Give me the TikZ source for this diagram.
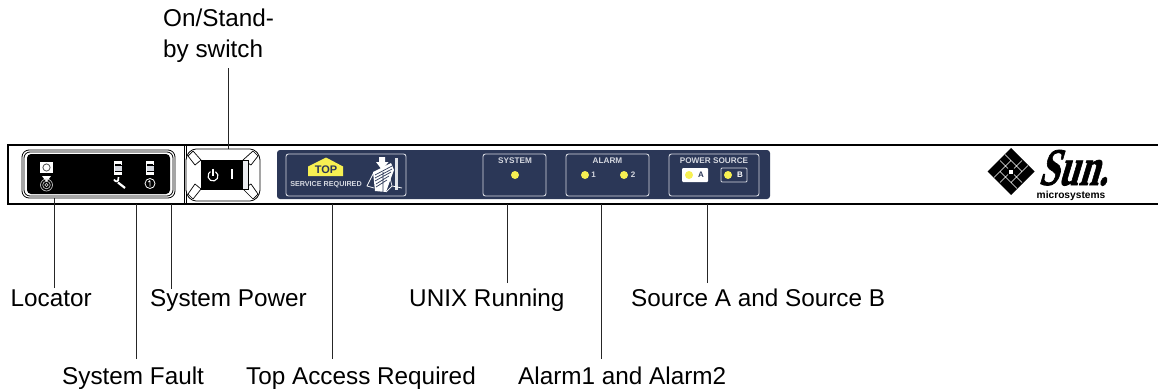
\documentclass[tikz,border=0pt]{standalone}
\usepackage{fontspec}
\setmainfont{Liberation Sans}
\newfontfamily\logofont[BoldFeatures={FakeBold=1.5}]{Liberation Serif}
\definecolor{navy}{HTML}{2B3757}
\definecolor{led}{HTML}{F7F052}
\definecolor{edge}{HTML}{D5D8E0}
\tikzset{
  x=1pt,y=-1pt,
  callout/.style={font=\fontsize{24.3}{31}\selectfont,inner sep=0pt,anchor=base west,text=black},
  leader/.style={draw=black!85,line width=0.8pt},
  panelhead/.style={font=\fontsize{8.2}{10}\bfseries\selectfont,text=edge,inner sep=0pt},
  ledlabel/.style={font=\fontsize{8}{10}\bfseries\selectfont,inner sep=0pt},
  groupbox/.style={draw=edge,line width=0.9pt,rounded corners=2.5pt},
  ledspot/.style={fill=led,draw=none},
  bezel/.style={draw=black,fill=white,line width=0.8pt},
  facet/.style={draw=black,fill=white,line width=0.7pt,line join=round},
  icon/.style={draw=white,line width=0.8pt}
}
\begin{document}
\begin{tikzpicture}
\useasboundingbox (0,0) rectangle (1158,388);
% chassis
\draw[line width=2.2pt] (1158,144.8) -- (8,144.8) -- (8,204.3) -- (1158,204.3);
\draw[line width=0.6pt] (184,145) -- (184,204) (186,145) -- (186,204);
% left bezel
\draw[bezel,rounded corners=7pt] (22,150) rectangle (175,198);
\draw[bezel,rounded corners=6pt] (24,152) rectangle (173,196);
\node[fill=black,rounded corners=4pt,minimum width=143,minimum height=40,inner sep=0pt] (ledpanel) at (98.5,174) {};
\node[fill=white,minimum width=13,minimum height=11,inner sep=0pt] (locbox) at (46.5,167.5) {};
\draw[black!70,line width=0.8pt] (locbox) circle (3.6);
\fill[white] (42,176) -- (51,176) -- (46.5,182) -- cycle;
\draw[white!75!black,line width=0.7pt] (46.5,185) circle (6) (46.5,185) circle (3.8) (46.5,185) circle (1.6);
\foreach \lx in {118,150}{
  \fill[white] (\lx-4,161) rectangle (\lx+4,175);
  \fill[black] (\lx-3,164) rectangle (\lx+3,172);
  \fill[edge] (\lx-3.5,165) rectangle (\lx+3.5,171);
  \draw[black,line width=0.6pt] (\lx-3.5,165) -- (\lx+3.5,165) (\lx-3.5,171) -- (\lx+3.5,171);
}
\draw[white,line width=2.2pt] (118,182.5) -- (125,188);
\draw[white,line width=1.7pt] (114,179.5) .. controls (115.5,182.5) and (119,182.5) .. (118.5,177);
\draw[icon] (150,183.5) circle (5);
\draw[icon] (150,180.5) -- (150,186.5) (148.5,182) -- (150,180.5);
% switch
\draw[bezel,rounded corners=4pt] (192,149) -- (254,149) -- (260,156) -- (260,194) -- (254,201) -- (192,201) -- (186,194) -- (186,156) -- cycle;
\draw[facet] (188,156) -- (193,151) -- (201,160) -- (195,165) -- cycle;
\draw[facet] (258,156) -- (253,151) -- (243,160) -- (251,165) -- cycle;
\draw[facet] (188,194) -- (193,199) -- (201,189) -- (195,184) -- cycle;
\draw[facet] (258,194) -- (253,199) -- (243,189) -- (251,184) -- cycle;
\draw[line width=0.7pt,fill=edge!50] (242,160) rectangle (248,189.5);
\node[fill=black,minimum width=41,minimum height=29.5,inner sep=0pt] (switch) at (221.5,174.8) {};
\draw[white,line width=1.1pt] (215.5,171.7) arc[start angle=-60,end angle=240,radius=5];
\draw[white,line width=1.1pt] (213,168.5) -- (213,175.5);
\fill[white] (231,169) rectangle (233,179);
% navy panel
\node[fill=navy,rounded corners=3pt,minimum width=493,minimum height=49,inner sep=0pt] (navypanel) at (523.5,174.5) {};
\node[groupbox,minimum width=120,minimum height=42,inner sep=0pt] (topbox) at (346,175) {};
\fill[led] (308,166.5) -- (326,157.5) -- (343,166.5) -- (343,176) -- (308,176) -- cycle;
\node[font=\fontsize{11}{12}\bfseries\selectfont,text=navy,inner sep=0pt] (toptext) at (326,170) {TOP};
\node[panelhead,font=\fontsize{7.2}{9}\bfseries\selectfont] (service) at (326,184.5) {SERVICE REQUIRED};
% service icon
\fill[edge!70] (395,158) rectangle (398,190);
\draw[white,line width=0.7pt] (374,172) -- (367,186) -- (374,188) (390,178) -- (392,186) -- (386,192) (392,186) -- (402,188);
\fill[white] (373,172) -- (391,163) -- (394,170) -- (391,178) -- (386,192) -- (375,191) -- cycle;
\draw[navy,line width=0.7pt] (375,175) -- (392,166) (375,178) -- (392,169) (375,181) -- (391,172) (376,184) -- (389,176) (376,187) -- (387,180) (383,172) -- (383,192);
\fill[white] (379,157) -- (385,157) -- (385,162) -- (388.5,162) -- (382,170) -- (376,162) -- (379,162) -- cycle;
% system
\node[groupbox,minimum width=63,minimum height=42,inner sep=0pt] (sysbox) at (514.5,175) {};
\node[panelhead] (syshead) at (515,160.7) {SYSTEM};
\fill[ledspot] (515,175) circle (4);
% alarm
\node[groupbox,minimum width=83,minimum height=42,inner sep=0pt] (alarmbox) at (607.5,175) {};
\node[panelhead] (alarmhead) at (607.5,160.7) {ALARM};
\fill[ledspot] (585,175) circle (4);
\node[ledlabel,text=edge] (a1) at (593.5,175) {1};
\fill[ledspot] (624,175) circle (4);
\node[ledlabel,text=edge] (a2) at (633,175) {2};
% power source
\node[groupbox,minimum width=90,minimum height=42,inner sep=0pt] (powerbox) at (714,175) {};
\node[panelhead] (powerhead) at (714,160.7) {POWER SOURCE};
\node[fill=white,rounded corners=1pt,minimum width=26,minimum height=14,inner sep=0pt] (srca) at (695,175) {};
\fill[led] (689,175) circle (4);
\node[ledlabel,text=navy] (la) at (701,175) {A};
\node[draw=edge,line width=0.9pt,rounded corners=1pt,minimum width=26,minimum height=14,inner sep=0pt] (srcb) at (734,175) {};
\fill[ledspot] (728,175) circle (4);
\node[ledlabel,text=white] (lb) at (740,175) {B};
% logo
\begin{scope}[shift={(1011,171.5)}]
\fill[black] (0,-23.5) -- (23.5,0) -- (0,23.5) -- (-23.5,0) -- cycle;
\draw[white,line width=0.5pt] (-11,-11) -- (-3,-3) (11,11) -- (3,3) (11,-11) -- (3,-3) (-11,11) -- (-3,3)
  (-6,-17) -- (11,0) (6,17) -- (-11,0) (17,-6) -- (0,11) (-17,6) -- (0,-11);
\fill[white] (-2,-2) rectangle (2,2);
\end{scope}
\node[inner sep=0pt,anchor=base west,xslant=0.3,transform shape] (sunword) at (1038,185) {\scalebox{0.68}[1]{\logofont\bfseries\fontsize{53}{53}\selectfont Sun.}};
\node[font=\fontsize{10.2}{11}\bfseries\selectfont,inner sep=0pt] (micro) at (1071,195.5) {microsystems};
% callouts
\node[callout,align=left,anchor=base west] (onstandby) at (163,57) {On/Stand-\\by switch};
\node[callout] (locator) at (10.5,306) {Locator};
\node[callout] (syspower) at (150,306) {System Power};
\node[callout] (unix) at (409,306) {UNIX Running};
\node[callout] (sources) at (631,306) {Source A and Source B};
\node[callout] (sysfault) at (62,384) {System Fault};
\node[callout] (topaccess) at (246,384) {Top Access Required};
\node[callout] (alarms) at (518,384) {Alarm1 and Alarm2};
\coordinate (onstart) at (228,68);
\coordinate (swend) at (228,149);
\coordinate (locend) at (54,198);
\coordinate (faultend) at (136,204);
\coordinate (powend) at (171,204);
\coordinate (topend) at (332,204);
\coordinate (sysend) at (507,204);
\coordinate (alarmend) at (601,204);
\coordinate (srcend) at (707,204);
\coordinate (c1) at (54,288);
\coordinate (c2) at (171,289);
\coordinate (c3) at (507,283);
\coordinate (c4) at (707,283);
\coordinate (c5) at (136,359);
\coordinate (c6) at (332,359);
\coordinate (c7) at (601,359);
\draw[leader] (onstart) -- (swend);
\draw[leader] (c1) -- (locend);
\draw[leader] (c2) -- (powend);
\draw[leader] (c3) -- (sysend);
\draw[leader] (c4) -- (srcend);
\draw[leader] (c5) -- (faultend);
\draw[leader] (c6) -- (topend);
\draw[leader] (c7) -- (alarmend);
\end{tikzpicture}
\end{document}
